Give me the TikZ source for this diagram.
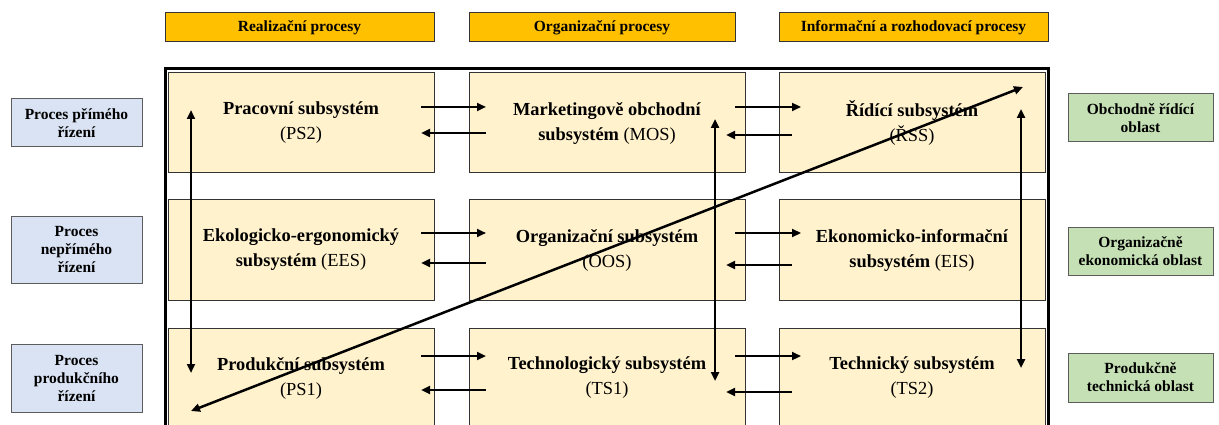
\documentclass[tikz,border=0pt]{standalone}
\usepackage{fontspec}
\setmainfont{Liberation Serif}
\usetikzlibrary{arrows.meta}
\definecolor{headfill}{HTML}{FFC000}
\definecolor{subfill}{HTML}{FFF2CC}
\definecolor{leftfill}{HTML}{DAE3F3}
\definecolor{rightfill}{HTML}{C5E0B4}
\definecolor{edge}{HTML}{333333}
\tikzset{
  headbox/.style={draw=edge, line width=1pt, fill=headfill, minimum height=29pt,
    inner sep=0pt, font=\fontsize{15.5}{18}\selectfont\bfseries},
  subbox/.style={draw=edge, line width=1pt, fill=subfill, minimum height=100pt,
    inner sep=0pt, align=center, font=\fontsize{18.4}{25}\selectfont},
  leftbox/.style={draw=edge!80, line width=1pt, fill=leftfill, minimum width=131pt,
    inner sep=0pt, align=center, font=\fontsize{15.5}{18}\selectfont\bfseries},
  rightbox/.style={draw=edge!80, line width=1pt, fill=rightfill, minimum width=145pt,
    inner sep=0pt, align=center, font=\fontsize{15.5}{18}\selectfont\bfseries},
  flow/.style={line width=2.5pt, -{Triangle[length=9pt,width=8pt]}},
  twoway/.style={line width=2.5pt, {Triangle[length=9pt,width=8pt]}-{Triangle[length=9pt,width=8pt]}},
  frame/.style={line width=3pt}
}
\begin{document}
\begin{tikzpicture}[x=1pt, y=-1pt]
\useasboundingbox (0,0) rectangle (1219,425);
\clip (0,0) rectangle (1219,425);

% column headers
\node[headbox, minimum width=269pt] (hreal) at (299.5,27.5) {Realizační procesy};
\node[headbox, minimum width=266pt] (horg)  at (602,27.5)   {Organizační procesy};
\node[headbox, minimum width=269pt] (hinf)  at (913.5,27.5) {Informační a rozhodovací procesy};

% outer frame
\draw[frame] (165,69) rectangle (1048,445);

% subsystems
\node[subbox, minimum width=266pt] (ps2) at (301,123) {\textbf{Pracovní subsystém}\\(PS2)};
\node[subbox, minimum width=276pt] (mos) at (607,123) {\textbf{Marketingově obchodní}\\\textbf{subsystém} (MOS)};
\node[subbox, minimum width=266pt] (rss) at (912,123) {\textbf{Řídící subsystém}\\(ŘSS)};

\node[subbox, minimum width=266pt] (ees) at (301,250) {\textbf{Ekologicko-ergonomický}\\\textbf{subsystém} (EES)};
\node[subbox, minimum width=276pt] (oos) at (607,250) {\textbf{Organizační subsystém}\\(OOS)};
\node[subbox, minimum width=266pt] (eis) at (912,250) {\textbf{Ekonomicko-informační}\\\textbf{subsystém} (EIS)};

\node[subbox, minimum width=266pt] (ps1) at (301,378) {\textbf{Produkční subsystém}\\(PS1)};
\node[subbox, minimum width=276pt] (ts1) at (607,378) {\textbf{Technologický subsystém}\\(TS1)};
\node[subbox, minimum width=266pt] (ts2) at (912,378) {\textbf{Technický subsystém}\\(TS2)};

% control levels
\node[leftbox, minimum height=48pt] (lp1) at (76.5,123)   {Proces přímého\\řízení};
\node[leftbox, minimum height=67pt] (lp2) at (76.5,249.5) {Proces\\nepřímého\\řízení};
\node[leftbox, minimum height=68pt] (lp3) at (76.5,378)   {Proces\\produkčního\\řízení};

% areas
\node[rightbox, minimum height=48pt] (ra1) at (1140.5,118)   {Obchodně řídící\\oblast};
\node[rightbox, minimum height=48pt] (ra2) at (1140.5,251)   {Organizačně\\ekonomická oblast};
\node[rightbox, minimum height=49pt] (ra3) at (1140.5,377.5) {Produkčně\\technická oblast};

% arrow end points
\foreach \r/\ya/\yb in {1/107/133, 2/233/263, 3/356/390} {
  \coordinate (a\r l) at (421,\ya);
  \coordinate (a\r r) at (486,\ya);
  \coordinate (b\r r) at (486,\yb);
  \coordinate (b\r l) at (421,\yb);
  \coordinate (c\r l) at (735,\ya);
  \coordinate (c\r r) at (801,\ya);
  \coordinate (d\r r) at (792,\yb+2);
  \coordinate (d\r l) at (726,\yb+2);
}
\foreach \r in {1,2,3} {
  \draw[flow] (a\r l) -- (a\r r);
  \draw[flow] (b\r r) -- (b\r l);
  \draw[flow] (c\r l) -- (c\r r);
  \draw[flow] (d\r r) -- (d\r l);
}

% vertical links
\coordinate (v1t) at (191,110);  \coordinate (v1b) at (191,373);
\coordinate (v2t) at (715,119);  \coordinate (v2b) at (715,381);
\coordinate (v3t) at (1021,109); \coordinate (v3b) at (1021,368);
\draw[twoway] (v1t) -- (v1b);
\draw[twoway] (v2t) -- (v2b);
\draw[twoway] (v3t) -- (v3b);

% diagonal link
\coordinate (dgl) at (191,411);
\coordinate (dgr) at (1023,87);
\draw[twoway] (dgl) -- (dgr);
\end{tikzpicture}
\end{document}
